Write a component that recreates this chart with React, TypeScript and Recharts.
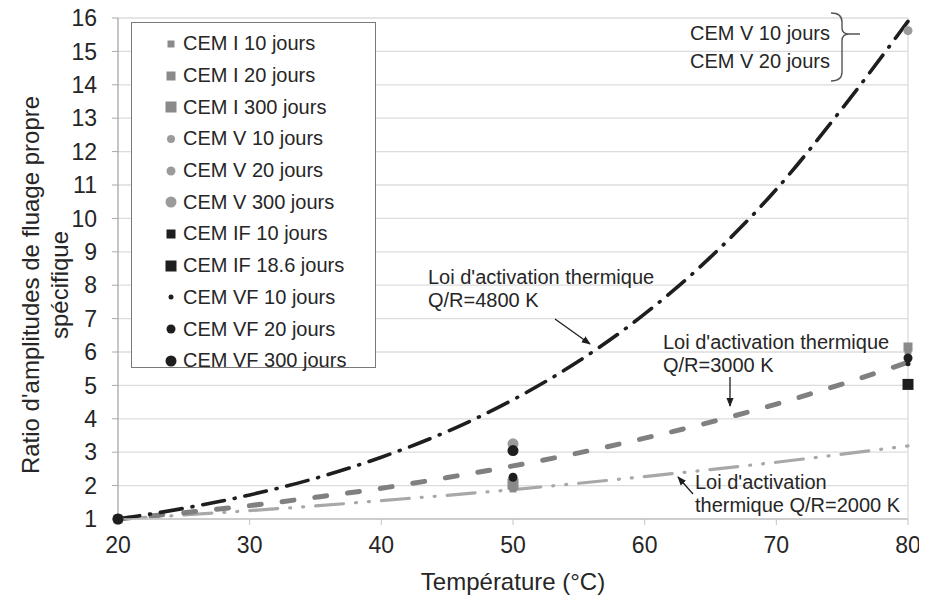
import React from "react";
import { ComposedChart, Line, Scatter, XAxis, YAxis, CartesianGrid, ReferenceLine } from "recharts";

// axes
const xTicks = [20, 30, 40, 50, 60, 70, 80];
const yTicks = [1, 2, 3, 4, 5, 6, 7, 8, 9, 10, 11, 12, 13, 14, 15, 16];

// activation law curves, every 5 °C
const curveTemps = [20, 25, 30, 35, 40, 45, 50, 55, 60, 65, 70, 75, 80];
const loi4800 = [1, 1.32, 1.72, 2.22, 2.85, 3.62, 4.57, 5.73, 7.14, 8.84, 10.87, 13.29, 15.9];
const loi3000 = [1, 1.19, 1.4, 1.65, 1.92, 2.24, 2.59, 2.98, 3.42, 3.9, 4.44, 5.04, 5.69];
const loi2000 = [1, 1.12, 1.25, 1.39, 1.55, 1.71, 1.88, 2.07, 2.27, 2.48, 2.7, 2.94, 3.19];

// measured points
const cemI10 = [{ x: 20, y: 1 }, { x: 50, y: 1.9 }, { x: 80, y: 6.05 }];
const cemI20 = [{ x: 20, y: 1 }, { x: 50, y: 2.0 }, { x: 80, y: 6.15 }];
const cemI300 = [{ x: 50, y: 2.05 }];
const cemV10 = [{ x: 20, y: 1 }, { x: 80, y: 15.62 }];
const cemV20 = [{ x: 20, y: 1 }, { x: 80, y: 15.62 }];
const cemV300 = [{ x: 20, y: 1 }, { x: 50, y: 3.25 }];
const cemIF10 = [{ x: 80, y: 5.03 }];
const cemIF186 = [{ x: 80, y: 5.03 }];
const cemVF10 = [{ x: 20, y: 1 }, { x: 80, y: 5.65 }];
const cemVF20 = [{ x: 20, y: 1 }, { x: 50, y: 2.25 }, { x: 80, y: 5.82 }];
const cemVF300 = [{ x: 20, y: 1 }, { x: 50, y: 3.05 }];

const seriesNames = [
    "CEM I 10 jours", "CEM I 20 jours", "CEM I 300 jours",
    "CEM V 10 jours", "CEM V 20 jours", "CEM V 300 jours",
    "CEM IF 10 jours", "CEM IF 18.6 jours",
    "CEM VF 10 jours", "CEM VF 20 jours", "CEM VF 300 jours",
];
const seriesData = [cemI10, cemI20, cemI300, cemV10, cemV20, cemV300, cemIF10, cemIF186, cemVF10, cemVF20, cemVF300];

const GRAY_SQ = "#8a8a8a";
const GRAY_CI = "#9b9b9b";
const BLACK = "#1e1e1e";

// marker look per series (same order as names)
const markerStyles = [
    { kind: "square", size: 7, color: GRAY_SQ },
    { kind: "square", size: 9, color: GRAY_SQ },
    { kind: "square", size: 11, color: GRAY_SQ },
    { kind: "circle", size: 8, color: GRAY_CI },
    { kind: "circle", size: 9, color: GRAY_CI },
    { kind: "circle", size: 11, color: GRAY_CI },
    { kind: "square", size: 9, color: BLACK },
    { kind: "square", size: 11, color: BLACK },
    { kind: "circle", size: 5, color: BLACK },
    { kind: "circle", size: 9, color: BLACK },
    { kind: "circle", size: 11, color: BLACK },
];

const toPoints = (ys: number[]) => curveTemps.map((t, i) => ({ x: t, y: ys[i] }));

function Marker({ kind, size, color, cx, cy }: any) {
    if (cx == null || cy == null) return null;
    return kind === "square"
        ? <rect x={cx - size / 2} y={cy - size / 2} width={size} height={size} fill={color} />
        : <circle cx={cx} cy={cy} r={size / 2} fill={color} />;
}

const FONT = "'Liberation Sans', Arial, sans-serif";
const TXT = "#262626";

export default function App() {
    return (
        <div style={{ position: "relative", width: 927, height: 603, margin: -8, fontFamily: FONT, background: "#fff" }}>
            <ComposedChart width={927} height={603} margin={{ top: 18, right: 19, bottom: 54, left: 58 }}>
                <CartesianGrid vertical={false} stroke="#dcdcdc" strokeWidth={1.3} />
                <XAxis
                    type="number"
                    dataKey="x"
                    domain={[20, 80]}
                    ticks={xTicks}
                    height={30}
                    tickSize={6}
                    tickMargin={12}
                    axisLine={{ stroke: "#c4c4c4", strokeWidth: 1.3 }}
                    tickLine={{ stroke: "#c4c4c4" }}
                    tick={{ fill: TXT, fontSize: 23, fontFamily: FONT }}
                />
                <YAxis
                    type="number"
                    dataKey="y"
                    domain={[1, 16]}
                    ticks={yTicks}
                    width={60}
                    tickSize={6}
                    tickMargin={15}
                    axisLine={{ stroke: "#a8a8a8", strokeWidth: 1.3 }}
                    tickLine={{ stroke: "#a8a8a8" }}
                    tick={{ fill: TXT, fontSize: 23, fontFamily: FONT }}
                />
                <ReferenceLine x={80} stroke="#dcdcdc" strokeWidth={1.3} />

                <Line data={toPoints(loi2000)} dataKey="y" type="monotone" stroke="#a8a8a8" strokeWidth={3.2}
                    strokeDasharray="28 12 1 12 1 12" strokeLinecap="round" dot={false} isAnimationActive={false} />
                <Line data={toPoints(loi3000)} dataKey="y" type="monotone" stroke="#808080" strokeWidth={5}
                    strokeDasharray="12 21" strokeLinecap="round" dot={false} isAnimationActive={false} />
                <Line data={toPoints(loi4800)} dataKey="y" type="monotone" stroke={BLACK} strokeWidth={3.6}
                    strokeDasharray="22 10 1 10" strokeLinecap="round" dot={false} isAnimationActive={false} />

                {seriesData.map((d, i) => (
                    <Scatter
                        key={seriesNames[i]}
                        name={seriesNames[i]}
                        data={d}
                        dataKey="y"
                        isAnimationActive={false}
                        shape={(p: any) => <Marker {...markerStyles[i]} cx={p.cx} cy={p.cy} />}
                    />
                ))}
            </ComposedChart>

            {/* legend box */}
            <div style={{
                position: "absolute", left: 131, top: 22, width: 245, height: 346, border: "1.5px solid #7a7a7a",
                background: "#fff", paddingTop: 5, boxSizing: "border-box",
            }}>
                {seriesNames.map((name, i) => (
                    <div key={name} style={{ display: "flex", alignItems: "center", height: 31.7 }}>
                        <svg width={20} height={20} style={{ marginLeft: 29 }}>
                            <Marker {...markerStyles[i]} cx={10} cy={10} />
                        </svg>
                        <span style={{ fontSize: 20, color: TXT, marginLeft: 2 }}>{name}</span>
                    </div>
                ))}
            </div>

            {/* annotations and axis titles */}
            <svg width={927} height={603} style={{ position: "absolute", left: 0, top: 0, pointerEvents: "none" }}
                fontFamily={FONT}>
                <defs>
                    <marker id="arr" viewBox="0 0 10 10" refX="9" refY="5" markerWidth="7" markerHeight="7" orient="auto">
                        <path d="M0,1 L10,5 L0,9 z" fill={BLACK} />
                    </marker>
                </defs>

                <text x={513} y={590} textAnchor="middle" fontSize={24} fill={TXT}>Température (°C)</text>
                <text transform="translate(39,285) rotate(-90)" textAnchor="middle" fontSize={24} fill={TXT}>
                    Ratio d'amplitudes de fluage propre
                </text>
                <text transform="translate(68,285) rotate(-90)" textAnchor="middle" fontSize={24} fill={TXT}>
                    spécifique
                </text>

                <text x={830} y={40} textAnchor="end" fontSize={20} fill={TXT}>CEM V 10 jours</text>
                <text x={830} y={68} textAnchor="end" fontSize={20} fill={TXT}>CEM V 20 jours</text>
                <path d="M831,13 Q842,13 842,22 L842,28 Q842,34 849,34 L860,34 M849,34 Q842,34 842,41 L842,72 Q842,81 831,81"
                    fill="none" stroke="#555" strokeWidth={1.4} />

                <text x={428} y={284} fontSize={20} fill={TXT}>Loi d'activation  thermique</text>
                <text x={428} y={307} fontSize={20} fill={TXT}>Q/R=4800 K</text>
                <line x1={555} y1={319} x2={590} y2={344} stroke={BLACK} strokeWidth={1.3} markerEnd="url(#arr)" />

                <text x={663} y={349} fontSize={20} fill={TXT}>Loi d'activation  thermique</text>
                <text x={663} y={372} fontSize={20} fill={TXT}>Q/R=3000 K</text>
                <line x1={730} y1={377} x2={730} y2={406} stroke={BLACK} strokeWidth={1.3} markerEnd="url(#arr)" />

                <text x={695} y={489} fontSize={20} fill={TXT}>Loi d'activation</text>
                <text x={695} y={512} fontSize={20} fill={TXT}>thermique  Q/R=2000 K</text>
                <line x1={693} y1={494} x2={678} y2={477} stroke={BLACK} strokeWidth={1.3} markerEnd="url(#arr)" />
            </svg>
        </div>
    );
}
